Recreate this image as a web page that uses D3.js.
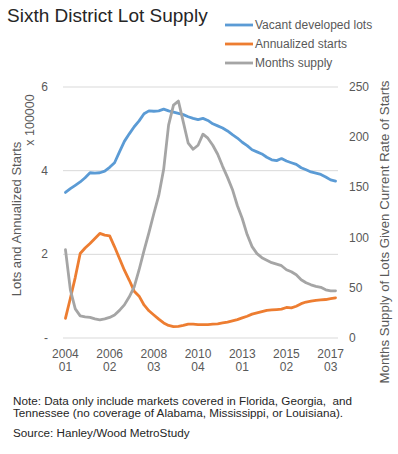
<!DOCTYPE html>
<html>
<head>
<meta charset="utf-8">
<script src="https://cdn.jsdelivr.net/npm/d3@7"></script>
<style>
  html, body { margin: 0; padding: 0; background: #fff; }
  svg { display: block; font-family: "Liberation Sans", Arial, sans-serif; }
</style>
</head>
<body>
<svg id="chart" width="398" height="454"></svg>
<script>
(function() {

  // quarters 2004Q1 .. 2017Q4
  const quarters = [];
  for (let y = 2004; y <= 2017; y++) {
    for (let q = 1; q <= 4; q++) quarters.push(`${y}-${q}`);
  }

  // every 9th quarter carries a label
  const tickYears = ["2004", "2006", "2008", "2010", "2013", "2015", "2017"];
  const tickQtrs = ["01", "02", "03", "04", "01", "02", "03"];

  // x 100000
  const vacantLots = [
    3.48, 3.57, 3.65, 3.73, 3.83, 3.95, 3.94, 3.95, 3.99, 4.08,
    4.19, 4.45, 4.70, 4.88, 5.05, 5.19, 5.36, 5.43, 5.42, 5.43,
    5.47, 5.43, 5.40, 5.37, 5.34, 5.29, 5.25, 5.22, 5.25, 5.20,
    5.12, 5.07, 5.02, 4.95, 4.86, 4.78, 4.68, 4.60, 4.50, 4.45,
    4.40, 4.32, 4.26, 4.24, 4.29, 4.23, 4.19, 4.15, 4.07, 4.02,
    3.97, 3.94, 3.91, 3.85, 3.78, 3.75,
  ];

  const annualStarts = [
    0.47, 0.95, 1.45, 2.02, 2.15, 2.26, 2.38, 2.50, 2.46, 2.44,
    2.18, 1.90, 1.62, 1.38, 1.12, 1.00, 0.79, 0.65, 0.55, 0.45,
    0.36, 0.30, 0.27, 0.28, 0.30, 0.33, 0.33, 0.32, 0.32, 0.32,
    0.33, 0.34, 0.36, 0.38, 0.41, 0.44, 0.48, 0.52, 0.57, 0.60,
    0.63, 0.66, 0.67, 0.68, 0.69, 0.73, 0.72, 0.76, 0.82, 0.86,
    0.88, 0.90, 0.91, 0.92, 0.94, 0.96,
  ];

  // months, right axis
  const monthsSupply = [
    88, 48, 29, 22, 21, 20.6, 19, 18, 19, 20.5,
    23, 27.5, 33, 41, 51, 68, 87, 105, 124, 142,
    168, 212, 232, 236, 215, 194, 188, 192, 203, 199,
    192, 183, 171, 160, 148, 132, 119, 103, 91, 84,
    80, 77.5, 75, 73.5, 72, 68, 66, 63, 58, 55,
    53, 51.5, 50.5, 48, 47, 47,
  ];

  const leftTicks = [0, 2, 4, 6];
  const rightTicks = [0, 50, 100, 150, 200, 250];

  const series = [
    { name: "Vacant developed lots", values: vacantLots, axis: "left", color: "#5B9BD5" },
    { name: "Annualized starts", values: annualStarts, axis: "left", color: "#ED7D31" },
    { name: "Months supply", values: monthsSupply, axis: "right", color: "#A5A5A5" },
  ];

  const TEXT = "#595959";
  const plot = { left: 63, right: 338, top: 87, bottom: 338 };

  const svg = d3.select("#chart");

  const x = d3.scaleBand()
    .domain(quarters)
    .range([plot.left, plot.right])
    .padding(0);
  const xc = (i) => x(quarters[i]) + x.bandwidth() / 2;

  const yLeft = d3.scaleLinear().domain([0, 6]).range([plot.bottom, plot.top]);
  const yRight = d3.scaleLinear().domain([0, 250]).range([plot.bottom, plot.top]);

  // gridlines
  svg.append("g")
    .selectAll("line")
    .data(leftTicks)
    .join("line")
    .attr("x1", plot.left).attr("x2", plot.right)
    .attr("y1", d => yLeft(d)).attr("y2", d => yLeft(d))
    .attr("stroke", "#D9D9D9")
    .attr("stroke-width", 1);

  // left axis labels
  svg.append("g")
    .selectAll("text")
    .data(leftTicks)
    .join("text")
    .attr("x", 48)
    .attr("y", d => yLeft(d) + 4)
    .attr("text-anchor", "end")
    .attr("font-size", 12)
    .attr("fill", TEXT)
    .text(d => d === 0 ? "-" : d);

  // right axis labels
  svg.append("g")
    .selectAll("text")
    .data(rightTicks)
    .join("text")
    .attr("x", 349)
    .attr("y", d => yRight(d) + 4)
    .attr("text-anchor", "start")
    .attr("font-size", 12)
    .attr("fill", TEXT)
    .text(d => d);

  // x axis labels, two rows
  svg.append("g")
    .selectAll("text")
    .data(tickYears)
    .join("text")
    .attr("x", (d, i) => xc(i * 9))
    .attr("y", 358)
    .attr("text-anchor", "middle")
    .attr("font-size", 12)
    .attr("fill", TEXT)
    .text(d => d);
  svg.append("g")
    .selectAll("text")
    .data(tickQtrs)
    .join("text")
    .attr("x", (d, i) => xc(i * 9))
    .attr("y", 371)
    .attr("text-anchor", "middle")
    .attr("font-size", 12)
    .attr("fill", TEXT)
    .text(d => d);

  // lines
  series.forEach(s => {
    const yScale = s.axis === "left" ? yLeft : yRight;
    const line = d3.line()
      .x((d, i) => xc(i))
      .y(d => yScale(d));
    svg.append("path")
      .datum(s.values)
      .attr("fill", "none")
      .attr("stroke", s.color)
      .attr("stroke-width", 2.8)
      .attr("stroke-linejoin", "round")
      .attr("stroke-linecap", "round")
      .attr("d", line);
  });

  // axis titles
  svg.append("text")
    .attr("transform", "translate(21,219) rotate(-90)")
    .attr("text-anchor", "middle")
    .attr("font-size", 13)
    .attr("fill", TEXT)
    .text("Lots and Annualized Starts");
  svg.append("text")
    .attr("transform", "translate(34,120) rotate(-90)")
    .attr("text-anchor", "middle")
    .attr("font-size", 12.5)
    .attr("fill", TEXT)
    .text("x 100000");
  svg.append("text")
    .attr("transform", "translate(389,232) rotate(-90)")
    .attr("text-anchor", "middle")
    .attr("font-size", 13.3)
    .attr("fill", TEXT)
    .text("Months Supply of Lots Given Current Rate of Starts");

  // title
  svg.append("text")
    .attr("x", 7).attr("y", 22)
    .attr("font-size", 19)
    .attr("fill", "#262626")
    .text("Sixth District Lot Supply");

  // legend
  const legend = svg.append("g")
    .selectAll("g")
    .data(series)
    .join("g")
    .attr("transform", (d, i) => `translate(225,${25 + i * 19})`);
  legend.append("line")
    .attr("x1", 0).attr("x2", 28)
    .attr("stroke", d => d.color)
    .attr("stroke-width", 2.8);
  legend.append("text")
    .attr("x", 30).attr("y", 4)
    .attr("font-size", 12)
    .attr("fill", TEXT)
    .text(d => d.name);

  // notes
  const noteLines = [
    "Note: Data only include markets covered in Florida, Georgia,  and",
    "Tennessee (no coverage of Alabama, Mississippi, or Louisiana).",
    "Source: Hanley/Wood MetroStudy",
  ];
  const noteY = [405, 417, 437];
  svg.append("g")
    .selectAll("text")
    .data(noteLines)
    .join("text")
    .attr("x", 13)
    .attr("y", (d, i) => noteY[i])
    .attr("font-size", 11.7)
    .attr("fill", "#262626")
    .style("white-space", "pre")
    .text(d => d);

})();
</script>
</body>
</html>
